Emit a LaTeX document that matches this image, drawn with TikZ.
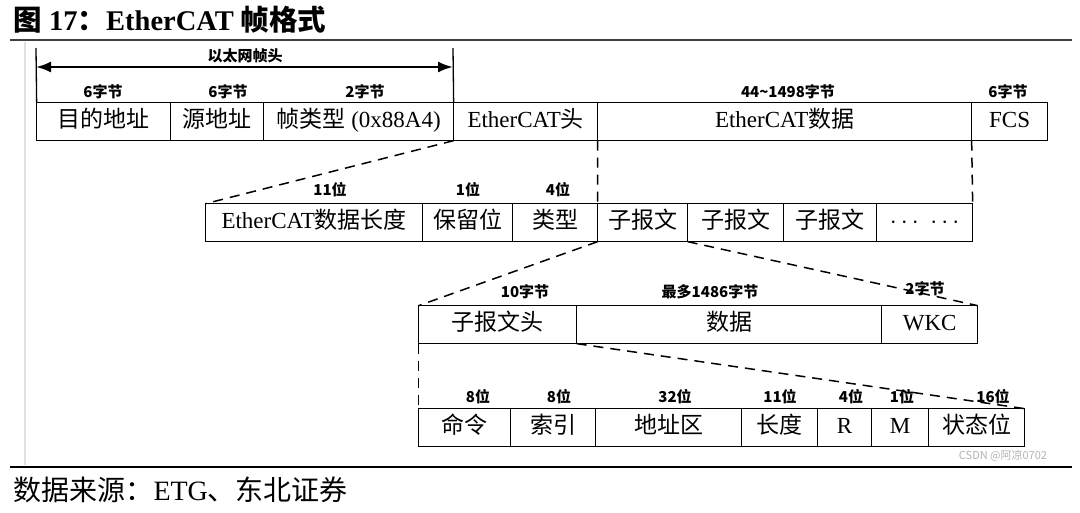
\documentclass[tikz,border=0pt]{standalone}
\usepackage{fontspec}
\setmainfont{Liberation Serif}
\newfontfamily\cjk{Noto Sans CJK SC}
\usetikzlibrary{matrix,positioning,arrows.meta}
\newcommand\en[1]{{\rmfamily #1}}
\newcommand\boxfont{\cjk\fontsize{23}{23}\selectfont}
\newcommand\lblfont{\cjk\bfseries\fontsize{15}{15}\selectfont}

\begin{document}
\begin{tikzpicture}[x=1pt, y=-1pt,
          field/.style={draw, line width=1.3pt, minimum height=38pt,
            text height=17pt, text depth=5pt, inner sep=0, font=\boxfont},
          wd/.style={minimum width=#1pt},
          fieldrow/.style={matrix of nodes, nodes={field}, column
            sep=-1.3pt, inner sep=0, outer sep=0, anchor=north west},
          lbl/.style={font=\lblfont, inner sep=0},
          link/.style={line width=1.5pt, dash pattern=on 10pt off 7pt}]
          \useasboundingbox (0,0) rectangle (1080,513);
          \node (title) [anchor=west, font=\bfseries\fontsize{28.5}{28.5}\selectfont] at (10,20)
            {{\cjk 图}~17{\cjk ：}EtherCAT~{\cjk 帧格式}};
          \draw[black!75, line width=2pt] (10,40) -- (1072,40);
          \draw[black!12, line width=2pt] (25,42) -- (25,465);
          \matrix(frame)[fieldrow] at (36,102) {
            |[wd=134]| 目的地址 & |[wd=93]| 源地址 & |[wd=190]| 帧类型\en{\ (0x88A4)} & |[wd=144]| \en{EtherCAT}头 & |[wd=374]| \en{EtherCAT}数据 & |[wd=76]| \en{FCS} \\
          };
          \matrix(hdr)[fieldrow] at (205,203) {
            |[wd=217]| \en{EtherCAT}数据长度 & |[wd=90]| 保留位 & |[wd=85]| 类型 & |[wd=90]| 子报文 & |[wd=96]| 子报文 & |[wd=93]| 子报文 & |[wd=96]| \en{$\cdots$\ \ $\cdots$} \\
          };
          \matrix(sub)[fieldrow] at (418,305) {
            |[wd=158]| 子报文头 & |[wd=305]| 数据 & |[wd=96]| \en{WKC} \\
          };
          \matrix(cmd)[fieldrow] at (418,408) {
            |[wd=92]| 命令 & |[wd=85]| 索引 & |[wd=146]| 地址区 & |[wd=76]| 长度 & |[wd=54]| \en{R} & |[wd=57]| \en{M} & |[wd=96]| 状态位 \\
          };
          \coordinate (tick-l) at (36,48);
          \coordinate (tick-r) at (453,48);
          \coordinate (eth-l) at (36,67);
          \coordinate (eth-r) at (453,67);
          \draw[line width=1.3pt] (frame-1-1.north west) -- (tick-l);
          \draw[line width=1.3pt] (frame-1-3.north east) -- (tick-r);
          \draw[line width=2.2pt, {Latex[length=15pt,width=11pt]}-{Latex[length=15pt,width=11pt]}] (eth-l) -- (eth-r);
          \node (eth) [lbl] at (245,56) {以太网帧头};
          \node (b-dst) [lbl] at (103,92) {6字节};
          \node (b-src) [lbl] at (228,92) {6字节};
          \node (b-type) [lbl] at (365,92) {2字节};
          \node (b-data) [lbl] at (788,92) {44\textasciitilde1498字节};
          \node (b-fcs) [lbl] at (1008,92) {6字节};
          \node (b-len) [lbl] at (330,190) {11位};
          \node (b-res) [lbl] at (468,190) {1位};
          \node (b-kind) [lbl] at (558,190) {4位};
          \node (b-head) [lbl] at (525,292) {10字节};
          \node (b-body) [lbl] at (710,292) {最多1486字节};
          \node (b-wkc) [lbl] at (925,289) {2字节};
          \node (b-cmd) [lbl] at (478,397) {8位};
          \node (b-idx) [lbl] at (559,397) {8位};
          \node (b-adr) [lbl] at (675,397) {32位};
          \node (b-size) [lbl] at (780,397) {11位};
          \node (b-r) [lbl] at (851,397) {4位};
          \node (b-m) [lbl] at (902,397) {1位};
          \node (b-state) [lbl] at (993,397) {16位};
          \draw[link] (frame-1-3.south east) -- (hdr-1-1.north west);
          \draw[link] (frame-1-4.south east) -- (hdr-1-3.north east);
          \draw[link] (frame-1-5.south east) -- (hdr-1-7.north east);
          \draw[link] (hdr-1-4.south west) -- (sub-1-1.north west);
          \draw[link] (hdr-1-4.south east) -- (sub-1-3.north east);
          \draw[link] (sub-1-1.south west) -- (cmd-1-1.north west);
          \draw[link] (sub-1-1.south east) -- (cmd-1-7.north east);
          \node (wm) [font=\cjk\fontsize{11}{11}\selectfont, text=black!30] at (1003,456) {CSDN @阿凉0702};
          \draw[line width=2.5pt] (10,467) -- (1072,467);
          \node (src) [anchor=west, font=\fontsize{28}{28}\selectfont] at (10,490)
            {{\cjk 数据来源：}ETG{\cjk 、东北证券}};
        \end{tikzpicture}
\end{document}
